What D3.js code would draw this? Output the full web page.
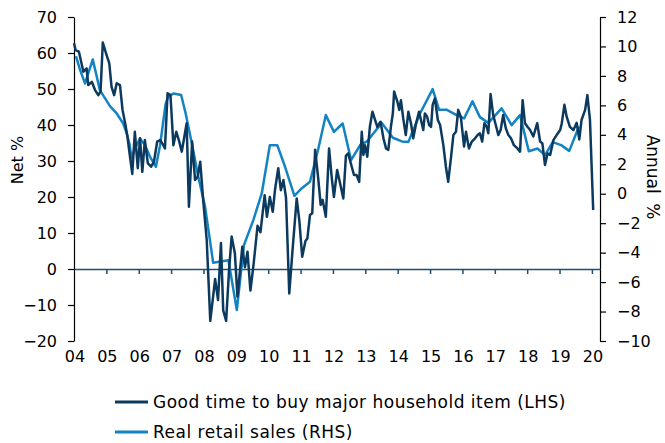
<!DOCTYPE html>
<html>
<head>
<meta charset="utf-8">
<script src="https://d3js.org/d3.v7.min.js"></script>
<style>
  body { margin: 0; background: #fff; }
  text { font-family: "DejaVu Sans", Verdana, sans-serif; font-size: 16px; fill: #000; }
</style>
</head>
<body>
<div class="chart"></div>
<script>

// Good time to buy major household item, net % (LHS)
const buyDates = [2004.00, 2004.05, 2004.15, 2004.29, 2004.39, 2004.44, 2004.55, 2004.65, 2004.75, 2004.82,
  2004.89, 2004.99, 2005.09, 2005.16, 2005.24, 2005.32, 2005.42, 2005.50, 2005.58, 2005.65,
  2005.73, 2005.80, 2005.88, 2005.97, 2006.04, 2006.11, 2006.19, 2006.28, 2006.38, 2006.47,
  2006.57, 2006.66, 2006.76, 2006.81, 2006.89, 2006.98, 2007.07, 2007.16, 2007.24, 2007.33,
  2007.41, 2007.48, 2007.55, 2007.65, 2007.74, 2007.82, 2007.90, 2007.99, 2008.10, 2008.21,
  2008.36, 2008.45, 2008.54, 2008.61, 2008.70, 2008.79, 2008.87, 2008.97, 2009.05, 2009.20,
  2009.28, 2009.36, 2009.45, 2009.55, 2009.67, 2009.76, 2009.89, 2009.96, 2010.05, 2010.14,
  2010.21, 2010.31, 2010.39, 2010.47, 2010.55, 2010.65, 2010.76, 2010.88, 2010.96, 2011.05,
  2011.15, 2011.21, 2011.29, 2011.36, 2011.45, 2011.55, 2011.62, 2011.68, 2011.78, 2011.88,
  2011.96, 2012.03, 2012.13, 2012.22, 2012.32, 2012.40, 2012.47, 2012.58, 2012.65, 2012.73,
  2012.81, 2012.89, 2012.94, 2012.99, 2013.06, 2013.14, 2013.22, 2013.30, 2013.37, 2013.47,
  2013.56, 2013.64, 2013.71, 2013.79, 2013.85, 2013.89, 2013.99, 2014.05, 2014.10, 2014.17,
  2014.25, 2014.33, 2014.41, 2014.48, 2014.57, 2014.66, 2014.72, 2014.79, 2014.84, 2014.91,
  2014.97, 2015.03, 2015.08, 2015.15, 2015.24, 2015.31, 2015.41, 2015.49, 2015.56, 2015.65,
  2015.72, 2015.80, 2015.87, 2015.95, 2016.05, 2016.11, 2016.20, 2016.29, 2016.39, 2016.47,
  2016.54, 2016.61, 2016.68, 2016.75, 2016.80, 2016.87, 2016.95, 2017.03, 2017.11, 2017.18,
  2017.26, 2017.34, 2017.42, 2017.50, 2017.59, 2017.70, 2017.78, 2017.86, 2017.93, 2018.01,
  2018.09, 2018.19, 2018.31, 2018.40, 2018.47, 2018.55, 2018.63, 2018.71, 2018.81, 2018.91,
  2019.02, 2019.07, 2019.15, 2019.22, 2019.32, 2019.43, 2019.53, 2019.61, 2019.68, 2019.79,
  2019.86, 2019.94, 2020.04];
const buyValues = [62.7, 60.8, 60.4, 54.8, 55.7, 51.1, 52, 49.7, 48.3, 49.3,
  62.9, 59.9, 57.1, 50.6, 48.3, 51.6, 51.1, 44.2, 40.5, 36.8,
  31.2, 26.4, 38.1, 28, 36.3, 27, 35.8, 29.4, 28.4, 29.8,
  35.4, 35.8, 34.4, 33.5, 48.8, 48.3, 34.4, 38.1, 35.8, 32.6,
  36.8, 40.5, 17.3, 35.4, 24.7, 25.6, 29.8, 19.2, 8.1, -14.4,
  -2.8, -8.6, 7.2, -11.5, -14.4, -0.3, 9, 4.4, -7.7, 6.2,
  0.5, 4.8, -6, 1.5, 12, 10.2, 20.5, 14.5, 20, 15.9,
  22, 28, 21.9, 24.7, 19.8, -6.8, 6.2, 19.6, 13.6, 3.4,
  7.8, 8.5, 15, 15.5, 33.1, 24.7, 17.8, 19.2, 14.5, 33.5,
  25.6, 20, 27.5, 23.8, 19.6, 31.4, 32.1, 28.4, 26.1, 26.1,
  24.2, 38.1, 31.7, 34.4, 31.2, 39.5, 43.7, 41.4, 39.5, 40.9,
  36.3, 33.5, 33.1, 39.5, 43.2, 49.3, 46.5, 44.2, 46.9, 41.9,
  37.2, 43.7, 40.5, 36.3, 40.5, 43.7, 41.4, 38.6, 43.2, 42.3,
  40, 39.5, 45.6, 47.4, 41.4, 40, 34.4, 28.4, 24.2, 31.2,
  37.2, 38.1, 44.2, 42.3, 34, 38.1, 33.5, 35.4, 36.3, 37.2,
  37.7, 35.4, 40.5, 39.5, 37.7, 48.6, 42.8, 40, 37.2, 38.6,
  42.8, 39.1, 37.2, 36.3, 34.4, 33.5, 32.6, 46.9, 40.5, 39.5,
  38.6, 36.8, 40.5, 35.4, 34.9, 28.9, 32.1, 31.7, 35.8, 37.2,
  38.6, 40.5, 45.6, 42.3, 39.5, 38.6, 40.6, 36, 41.4, 44.2,
  48.3, 41.4, 16.4];

// Real retail sales, annual % (RHS)
const salesDates = [2004.06, 2004.19, 2004.34, 2004.44, 2004.58, 2004.68, 2004.80, 2004.96, 2005.11, 2005.32,
  2005.52, 2005.63, 2005.71, 2005.78, 2005.88, 2006.04, 2006.19, 2006.35, 2006.53, 2006.66,
  2006.83, 2006.91, 2007.07, 2007.31, 2007.45, 2007.64, 2007.84, 2008.05, 2008.30, 2008.77,
  2009.03, 2009.25, 2009.54, 2009.80, 2010.05, 2010.28, 2010.52, 2010.81, 2011.03, 2011.29,
  2011.55, 2011.78, 2012.03, 2012.30, 2012.56, 2012.84, 2013.05, 2013.51, 2013.85, 2014.13,
  2014.33, 2014.69, 2015.08, 2015.28, 2015.52, 2015.82, 2016.05, 2016.31, 2016.54, 2016.80,
  2017.21, 2017.52, 2017.78, 2018.05, 2018.32, 2018.55, 2018.79, 2019.05, 2019.30, 2019.60];
const salesValues = [9.34, 8.39, 7.49, 8.17, 9.12, 8.17, 7.03, 6.47, 5.95, 5.45,
  4.77, 4.09, 3.41, 2.4, 3.07, 3.75, 3.3, 2.51, 1.83, 3.3,
  6.1, 6.58, 6.81, 6.7, 5.45, 3.41, 1.15, -0.89, -4.69, -4.51,
  -7.9, -3.49, -1.79, 0.02, 3.3, 3.3, 1.83, -0.14, 0.36, 0.81,
  3.07, 5.34, 4.2, 4.77, 2.28, 3.3, 3.55, 4.81, 3.8, 3.55,
  3.52, 5.45, 7.1, 5.7, 5.7, 5.34, 5.11, 6.27, 5.2, 4.81,
  5.8, 4.66, 5.34, 2.88, 3.07, 2.62, 3.5, 3.3, 2.91, 4.57];

const yearTicks = d3.range(2004, 2021);
const leftTicks = d3.range(-20, 71, 10);
const rightTicks = d3.range(-10, 13, 2);
const seriesNames = ["Good time to buy major household item (LHS)", "Real retail sales (RHS)"];
const seriesColors = ["#0c3a5e", "#1383c3"];

(function() {

  let svgContainer = "";

  window.onload = function() {
    svgContainer = d3.select('.chart').append('svg')
      .attr('width', 665)
      .attr('height', 443);

    let buyData = buyDates.map((d, i) => ({ x: d, y: buyValues[i] }));
    let salesData = salesDates.map((d, i) => ({ x: d, y: salesValues[i] }));

    // scales - plot spans 74..600 horizontally, 17..341 vertically
    let xScale = d3.scaleLinear().domain([2004, 2020.25]).range([74, 600]);
    let yLeft = d3.scaleLinear().domain([-20, 70]).range([341, 17]);
    let yRight = d3.scaleLinear().domain([-10, 12]).range([341, 17]);

    // left axis
    let leftAxis = svgContainer.append('g')
      .attr('transform', 'translate(74, 0)')
      .call(d3.axisLeft(yLeft).tickValues(leftTicks).tickSize(6).tickPadding(11).tickSizeOuter(0));
    styleAxis(leftAxis);

    // right axis
    let rightAxis = svgContainer.append('g')
      .attr('transform', 'translate(600, 0)')
      .call(d3.axisRight(yRight).tickValues(rightTicks).tickSize(6).tickPadding(11).tickSizeOuter(0));
    styleAxis(rightAxis);

    // zero line with year ticks hanging off it
    let zeroAxis = svgContainer.append('g')
      .attr('transform', 'translate(0,' + yLeft(0) + ')')
      .call(d3.axisBottom(xScale).tickValues(yearTicks.slice(1)).tickSize(5).tickSizeOuter(0).tickFormat(''));
    zeroAxis.select('.domain').attr('stroke', '#1d4f73').attr('stroke-width', 1.5);
    zeroAxis.selectAll('.tick line').attr('stroke', '#1d4f73').attr('stroke-width', 1.5);

    // year labels under the plot
    svgContainer.selectAll('.yearLabel')
      .data(yearTicks)
      .enter()
      .append('text')
        .attr('class', 'yearLabel')
        .attr('x', (d) => xScale(d) + 1)
        .attr('y', 362)
        .attr('text-anchor', 'middle')
        .text((d) => d3.format('02')(d % 100));

    // axis titles
    svgContainer.append('text')
      .attr('transform', 'translate(23, 160)rotate(-90)')
      .attr('text-anchor', 'middle')
      .text('Net %');

    svgContainer.append('text')
      .attr('transform', 'translate(647, 177)rotate(90)')
      .attr('text-anchor', 'middle')
      .style('font-size', '17px')
      .style('word-spacing', '4px')
      .text('Annual %');

    // series lines
    let lineLeft = d3.line().x((d) => xScale(d.x)).y((d) => yLeft(d.y));
    let lineRight = d3.line().x((d) => xScale(d.x)).y((d) => yRight(d.y));

    svgContainer.append('path')
      .datum(salesData)
      .attr('d', lineRight)
      .attr('fill', 'none')
      .attr('stroke', seriesColors[1])
      .attr('stroke-width', 2.5)
      .attr('stroke-linejoin', 'round');

    svgContainer.append('path')
      .datum(buyData)
      .attr('d', lineLeft)
      .attr('fill', 'none')
      .attr('stroke', seriesColors[0])
      .attr('stroke-width', 2.5)
      .attr('stroke-linejoin', 'round');

    // legend
    let legend = svgContainer.selectAll('.legendItem')
      .data(seriesNames)
      .enter()
      .append('g')
        .attr('class', 'legendItem')
        .attr('transform', (d, i) => 'translate(115,' + (402 + i * 30) + ')');

    legend.append('line')
      .attr('x1', 0)
      .attr('x2', 33)
      .attr('stroke', (d, i) => seriesColors[i])
      .attr('stroke-width', 3);

    legend.append('text')
      .attr('x', 38)
      .attr('dy', '0.35em')
      .style('font-size', '17px')
      .style('letter-spacing', '0.5px')
      .text((d) => d);
  }

  function styleAxis(g) {
    g.select('.domain').attr('stroke', '#000').attr('stroke-width', 1.2);
    g.selectAll('.tick line').attr('stroke', '#000').attr('stroke-width', 1.2);
    g.selectAll('.tick text')
      .style('font-family', '"DejaVu Sans", Verdana, sans-serif')
      .style('font-size', '16px')
      .attr('fill', '#000');
  }

})();
</script>
</body>
</html>
